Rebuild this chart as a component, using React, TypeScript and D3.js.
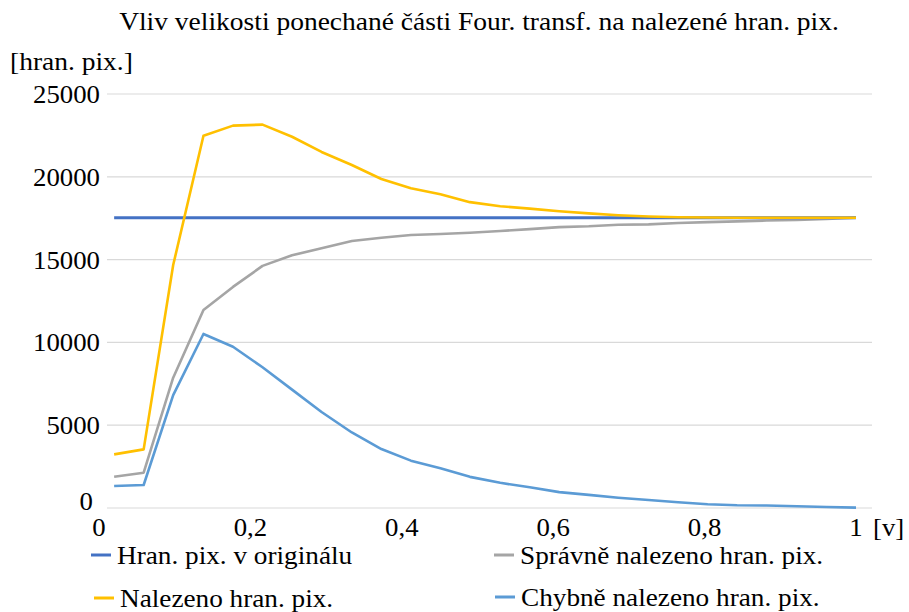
import React from "react";
import * as d3 from "d3";

const vValues = [0.02, 0.059, 0.098, 0.138, 0.177, 0.216, 0.255, 0.294, 0.334, 0.373, 0.412, 0.451, 0.49, 0.53, 0.569, 0.608, 0.647, 0.686, 0.726, 0.765, 0.804, 0.843, 0.882, 0.922, 0.961, 1.0];
const original = [17530, 17530, 17530, 17530, 17530, 17530, 17530, 17530, 17530, 17530, 17530, 17530, 17530, 17530, 17530, 17530, 17530, 17530, 17530, 17530, 17530, 17530, 17530, 17530, 17530, 17530];
const found = [3240, 3540, 14670, 22480, 23090, 23150, 22420, 21500, 20710, 19870, 19310, 18950, 18470, 18220, 18080, 17920, 17790, 17680, 17600, 17560, 17540, 17530, 17530, 17530, 17530, 17530];
const correct = [1890, 2130, 7870, 11960, 13350, 14620, 15260, 15680, 16120, 16320, 16490, 16550, 16620, 16730, 16840, 16960, 17010, 17100, 17130, 17210, 17260, 17310, 17360, 17400, 17450, 17530];
const wrong = [1330, 1390, 6820, 10510, 9740, 8500, 7150, 5800, 4560, 3560, 2860, 2400, 1880, 1520, 1250, 960, 790, 620, 480, 350, 230, 170, 150, 110, 60, 20];
const yTicks = [0, 5000, 10000, 15000, 20000, 25000];
const xTicks = [0, 0.2, 0.4, 0.6, 0.8, 1];
const xTickLabels = ["0", "0,2", "0,4", "0,6", "0,8", "1"];

const title = "Vliv velikosti ponechané části Four. transf. na nalezené hran. pix.";
const yTitle = "[hran. pix.]";
const xUnit = "[v]";

const series = [
  { name: "Hran. pix. v originálu", values: original, color: "#4472C4", width: 3 },
  { name: "Nalezeno hran. pix.", values: found, color: "#FFC000", width: 2.6 },
  { name: "Správně nalezeno hran. pix.", values: correct, color: "#A5A5A5", width: 2.6 },
  { name: "Chybně nalezeno hran. pix.", values: wrong, color: "#5B9BD5", width: 2.6 },
];

const FONT = '"Liberation Serif", "Times New Roman", Times, serif';

function T(props: { x: number; y: number; sx?: number; size: number; anchor?: string; children: React.ReactNode }) {
  const { x, y, sx = 1, size, anchor = "start", children } = props;
  return (
    <text
      transform={`translate(${x},${y}) scale(${sx},1)`}
      textAnchor={anchor}
      fontSize={size}
      fill="#000"
      style={{ fontFamily: FONT }}
    >
      {children}
    </text>
  );
}

export default function App() {
  const W = 909, H = 612;
  const gridLeft = 107, gridRight = 872;
  const x = d3.scaleLinear().domain([0, 1]).range([99, 856]);
  const y = d3.scaleLinear().domain([0, 25000]).range([508, 94]);
  const line = (vals: number[]) =>
    d3.line<number>().x((_, i) => x(vValues[i])).y((d) => y(d))(vals) || "";

  const drawOrder = [series[3], series[2], series[0], series[1]];

  const legendItems = [
    { s: series[0], lx: 91, ty: 564 },
    { s: series[2], lx: 494, ty: 564 },
    { s: series[1], lx: 94, ty: 607 },
    { s: series[3], lx: 495, ty: 606 },
  ];

  return (
    <svg width={W} height={H} style={{ position: "absolute", left: 0, top: 0, background: "#fff", fontFamily: FONT }}>
      <rect x={0} y={0} width={W} height={H} fill="#fff" />
      <T x={479} y={30} sx={1.1} size={25} anchor="middle">{title}</T>
      <T x={10} y={70} sx={1.1} size={25}>{yTitle}</T>
      {yTicks.map((t) => (
        <line key={"g" + t} x1={gridLeft} x2={gridRight} y1={y(t)} y2={y(t)} stroke="#D9D9D9" strokeWidth={1.2} />
      ))}
      {yTicks.map((t) =>
        t === 0 ? (
          <T key={"l" + t} x={93} y={y(t) + 2} sx={1.03} size={26} anchor="end">{t}</T>
        ) : (
          <T key={"l" + t} x={100} y={y(t) + 9} sx={1.03} size={26} anchor="end">{t}</T>
        )
      )}
      {xTicks.map((t, i) => (
        <T key={"x" + t} x={x(t)} y={536} sx={1.03} size={26} anchor="middle">{xTickLabels[i]}</T>
      ))}
      <T x={873} y={536} sx={1.03} size={26}>{xUnit}</T>
      {drawOrder.map((s) => (
        <path key={s.name} d={line(s.values)} fill="none" stroke={s.color} strokeWidth={s.width} strokeLinejoin="round" />
      ))}
      {legendItems.map(({ s, lx, ty }) => (
        <g key={s.name}>
          <line x1={lx} x2={lx + 20} y1={ty - 9} y2={ty - 9} stroke={s.color} strokeWidth={3} />
          <T x={lx + 26} y={ty} sx={1.09} size={25}>{s.name}</T>
        </g>
      ))}
    </svg>
  );
}
